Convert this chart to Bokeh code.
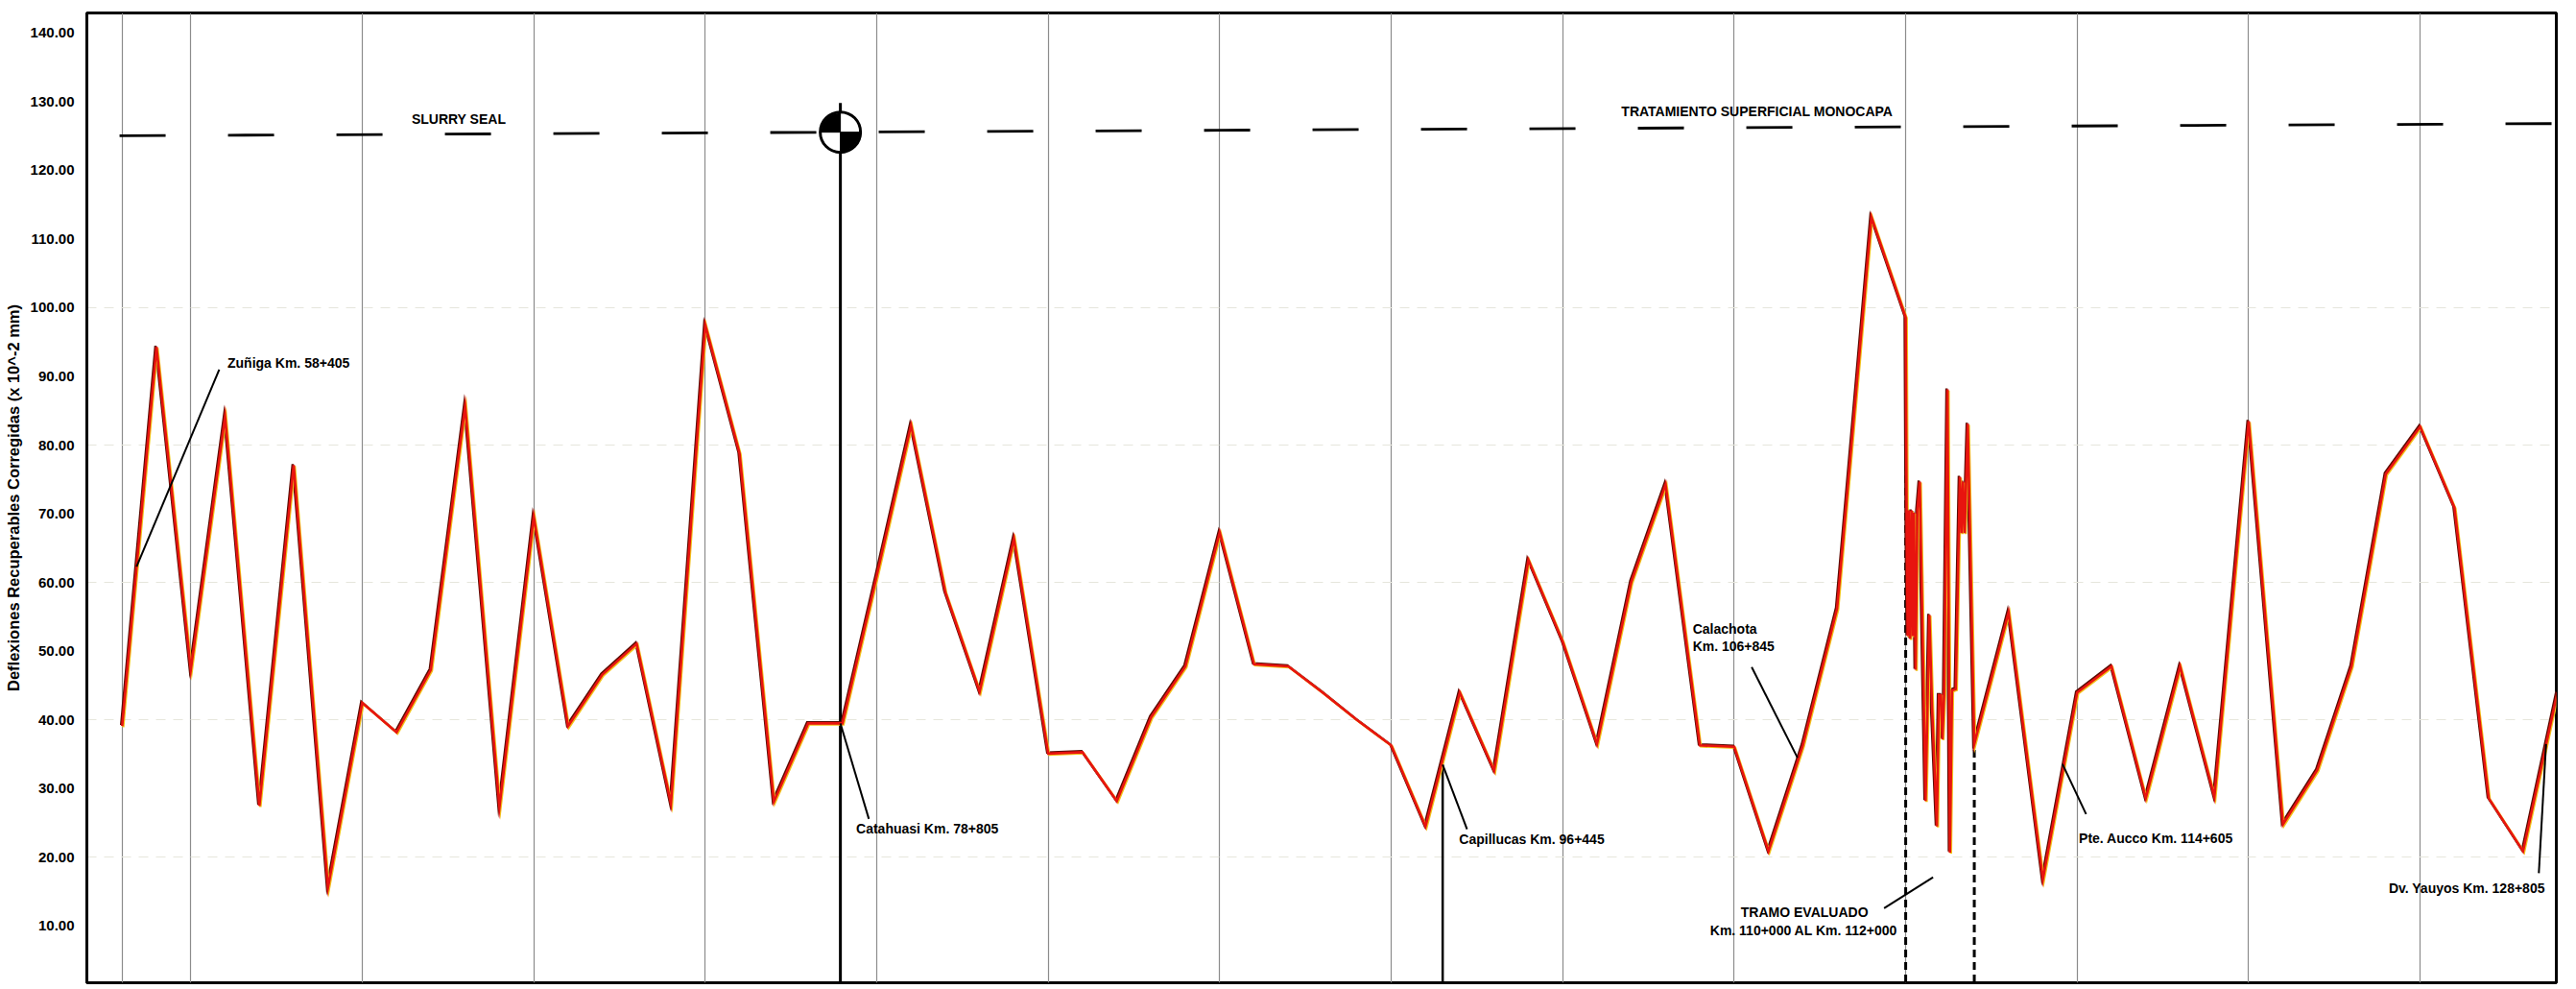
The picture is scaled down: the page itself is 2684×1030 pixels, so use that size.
from bokeh.plotting import figure
from bokeh.models import Range1d, FixedTicker, PrintfTickFormatter, Grid
from bokeh.embed import file_html
from bokeh.resources import INLINE
from bokeh.core.properties import value

# ---------------- data ----------------
# stations every 1 km (Km 58 - Km 110 and Km 112 - Km 129)
km_est = list(range(58, 111)) + list(range(112, 130))
deflexion = [39.1, 94.3, 47.3, 84.2, 27.5, 77.1, 15.6, 42.5, 38.2, 47.3,
             85.7, 27.3, 69.6, 39.1, 46.6, 51.1, 27.8, 97.5, 78.8, 28.1,
             39.5, 39.5, 61.0, 82.9, 58.6, 44.1, 66.4, 35.1, 35.3, 28.2,
             40.4, 47.8, 67.3, 48.1, 47.8, 44.0, 40.0, 36.3, 24.5, 44.0,
             32.6, 63.3, 51.4, 36.5, 60.1, 74.3, 36.3, 36.1, 20.9, 36.3,
             56.2, 113.2, 98.6,
             36.5, 55.7, 16.8, 44.0, 47.8, 28.6, 47.8, 28.8, 83.5, 24.8,
             32.7, 47.8, 75.8, 82.7, 70.9, 28.6, 20.9, 44.0]

# dense section: TRAMO EVALUADO Km 110+000 al Km 112+000
km_tramo = [110.03, 110.06, 110.09, 110.13, 110.17, 110.21, 110.24, 110.29,
            110.34, 110.41, 110.46, 110.58, 110.69, 110.77, 110.91, 110.97,
            111.03, 111.07, 111.12, 111.22, 111.29, 111.35, 111.46, 111.58,
            111.63, 111.67, 111.72, 111.81]
defl_tramo = [67.2, 52.2, 70.5, 51.8, 70.5, 52.2, 70.2, 47.3,
              70.5, 74.7, 61.2, 28.2, 55.3, 41.7, 24.5, 43.6,
              43.6, 37.2, 43.6, 88.1, 20.7, 44.3, 44.5, 75.4,
              67.2, 74.7, 67.2, 83.1]

# characteristic / admissible deflection line (slightly skewed in the scan)
lim_km = [57.0, 129.0]
lim_val = [125.0, 126.8]

y_ticks = [10, 20, 30, 40, 50, 60, 70, 80, 90, 100, 110, 120, 130, 140]
grid_km = [58, 60, 65, 70, 75, 80, 85, 90, 95, 100, 105, 110, 115, 120, 125]
hgrid_vals = [20, 40, 60, 80, 100]

# reference points (as drawn on the original sheet)
km_catahuasi = 78.94
km_capillucas = 96.5
km_tramo_ini = 110.0
km_tramo_fin = 112.0

# ---------------- figure ----------------
FONT = value("Liberation Sans")

pts = sorted(zip(km_est + km_tramo, deflexion + defl_tramo))
xs = [a for a, b in pts]
ys = [b for a, b in pts]

p = figure(width=2684, height=1030, output_backend="svg", toolbar_location=None,
           x_range=Range1d(56.97, 128.97), y_range=Range1d(1.75, 142.9),
           x_axis_location=None, min_border_left=90, min_border_right=21,
           min_border_top=13, min_border_bottom=7,
           background_fill_color="white", border_fill_color="white")

p.xgrid.visible = False
p.ygrid.visible = False
p.add_layout(Grid(dimension=0, ticker=FixedTicker(ticks=grid_km),
                  grid_line_color="#8c8c8c", grid_line_width=1.2))
p.add_layout(Grid(dimension=1, ticker=FixedTicker(ticks=hgrid_vals),
                  grid_line_color="#e6e6dc", grid_line_width=1,
                  grid_line_dash="10 8"))

p.outline_line_color = "black"
p.outline_line_width = 3

ax = p.yaxis[0]
ax.ticker = FixedTicker(ticks=y_ticks)
ax.formatter = PrintfTickFormatter(format="%.2f")
ax.axis_line_color = "black"
ax.axis_line_width = 3
ax.major_tick_line_color = None
ax.minor_tick_line_color = None
ax.major_label_standoff = 7
ax.major_label_text_font = "Liberation Sans"
ax.major_label_text_font_size = "15px"
ax.major_label_text_font_style = "bold"
ax.major_label_text_color = "black"
ax.axis_label = "Deflexiones Recuperables Corregidas (x 10^-2 mm)"
ax.axis_label_text_font = "Liberation Sans"
ax.axis_label_text_font_size = "16.5px"
ax.axis_label_text_font_style = "bold"
ax.axis_label_text_color = "black"
ax.axis_label_standoff = 6

# limit dashed line
p.line(lim_km, lim_val, line_color="black", line_width=2.8, line_dash="48 65",
       line_dash_offset=80)

# vertical reference lines
p.segment(x0=[km_catahuasi], y0=[0], x1=[km_catahuasi], y1=[129.8],
          line_color="black", line_width=3)
p.segment(x0=[km_capillucas], y0=[0], x1=[km_capillucas], y1=[33.5],
          line_color="black", line_width=2.5)
v110 = ys[xs.index(km_tramo_ini)]
v112 = ys[xs.index(km_tramo_fin)]
p.segment(x0=[km_tramo_ini, km_tramo_fin], y0=[0, 0],
          x1=[km_tramo_ini, km_tramo_fin], y1=[v110, v112],
          line_color="black", line_width=3, line_dash="8 5")

# deflection curve (red with dark/yellow edges like the original plot)
p.line([x - 0.03 for x in xs], [y + 0.15 for y in ys], line_color="#5a0a00",
       line_width=2.5, line_join="miter")
p.line([x + 0.03 for x in xs], [y - 0.15 for y in ys], line_color="#f2c21a",
       line_width=2.5, line_join="miter")
p.line(xs, ys, line_color="#e8140f", line_width=2.6, line_join="miter")

# benchmark symbol at Catahuasi on the limit line
sym_y = lim_val[0] + (lim_val[1] - lim_val[0]) * (km_catahuasi - lim_km[0]) / (lim_km[1] - lim_km[0])
p.scatter([km_catahuasi], [sym_y], size=42, marker="circle",
          fill_color="white", line_color="black", line_width=3)
p.wedge(x=[km_catahuasi, km_catahuasi], y=[sym_y, sym_y], radius=20,
        radius_units="screen", start_angle=[1.5708, 4.7124],
        end_angle=[3.1416, 6.2832], color="black")

# leader lines
lead_x0 = [58.42, km_catahuasi, km_capillucas, 105.51, 109.37, 114.57, 128.67]
lead_y0 = [62.3, 39.5, 33.5, 47.7, 12.6, 33.6, 36.5]
lead_x1 = [60.83, 79.77, 97.21, 106.845, 110.8, 115.26, 128.46]
lead_y1 = [91.0, 25.6, 24.1, 34.5, 17.1, 26.3, 17.7]
p.segment(x0=lead_x0, y0=lead_y0, x1=lead_x1, y1=lead_y1,
          line_color="black", line_width=2)

# texts
lab_left = ["Zuñiga Km. 58+405", "Catahuasi Km. 78+805", "Capillucas Km. 96+445",
            "Calachota", "Km. 106+845", "Pte. Aucco Km. 114+605",
            "SLURRY SEAL", "TRATAMIENTO SUPERFICIAL MONOCAPA"]
lab_left_x = [61.07, 79.4, 96.98, 103.79, 103.79, 115.05, 66.44, 101.71]
lab_left_y = [92.0, 24.2, 22.6, 53.3, 50.8, 22.8, 127.5, 128.6]
p.text(lab_left_x, lab_left_y, text=lab_left, text_font=FONT,
       text_font_size=value("14px"), text_font_style="bold",
       text_color="black", text_align="left", text_baseline="middle")

lab_center = ["TRAMO EVALUADO", "Km. 110+000 AL Km. 112+000"]
p.text([107.05, 107.03], [12.0, 9.3], text=lab_center, text_font=FONT,
       text_font_size=value("14px"), text_font_style="bold",
       text_color="black", text_align="center", text_baseline="middle")

p.text([128.64], [15.5], text=["Dv. Yauyos Km. 128+805"], text_font=FONT,
       text_font_size=value("14px"), text_font_style="bold",
       text_color="black", text_align="right", text_baseline="middle")

open("out.html", "w").write(file_html(p, INLINE))
